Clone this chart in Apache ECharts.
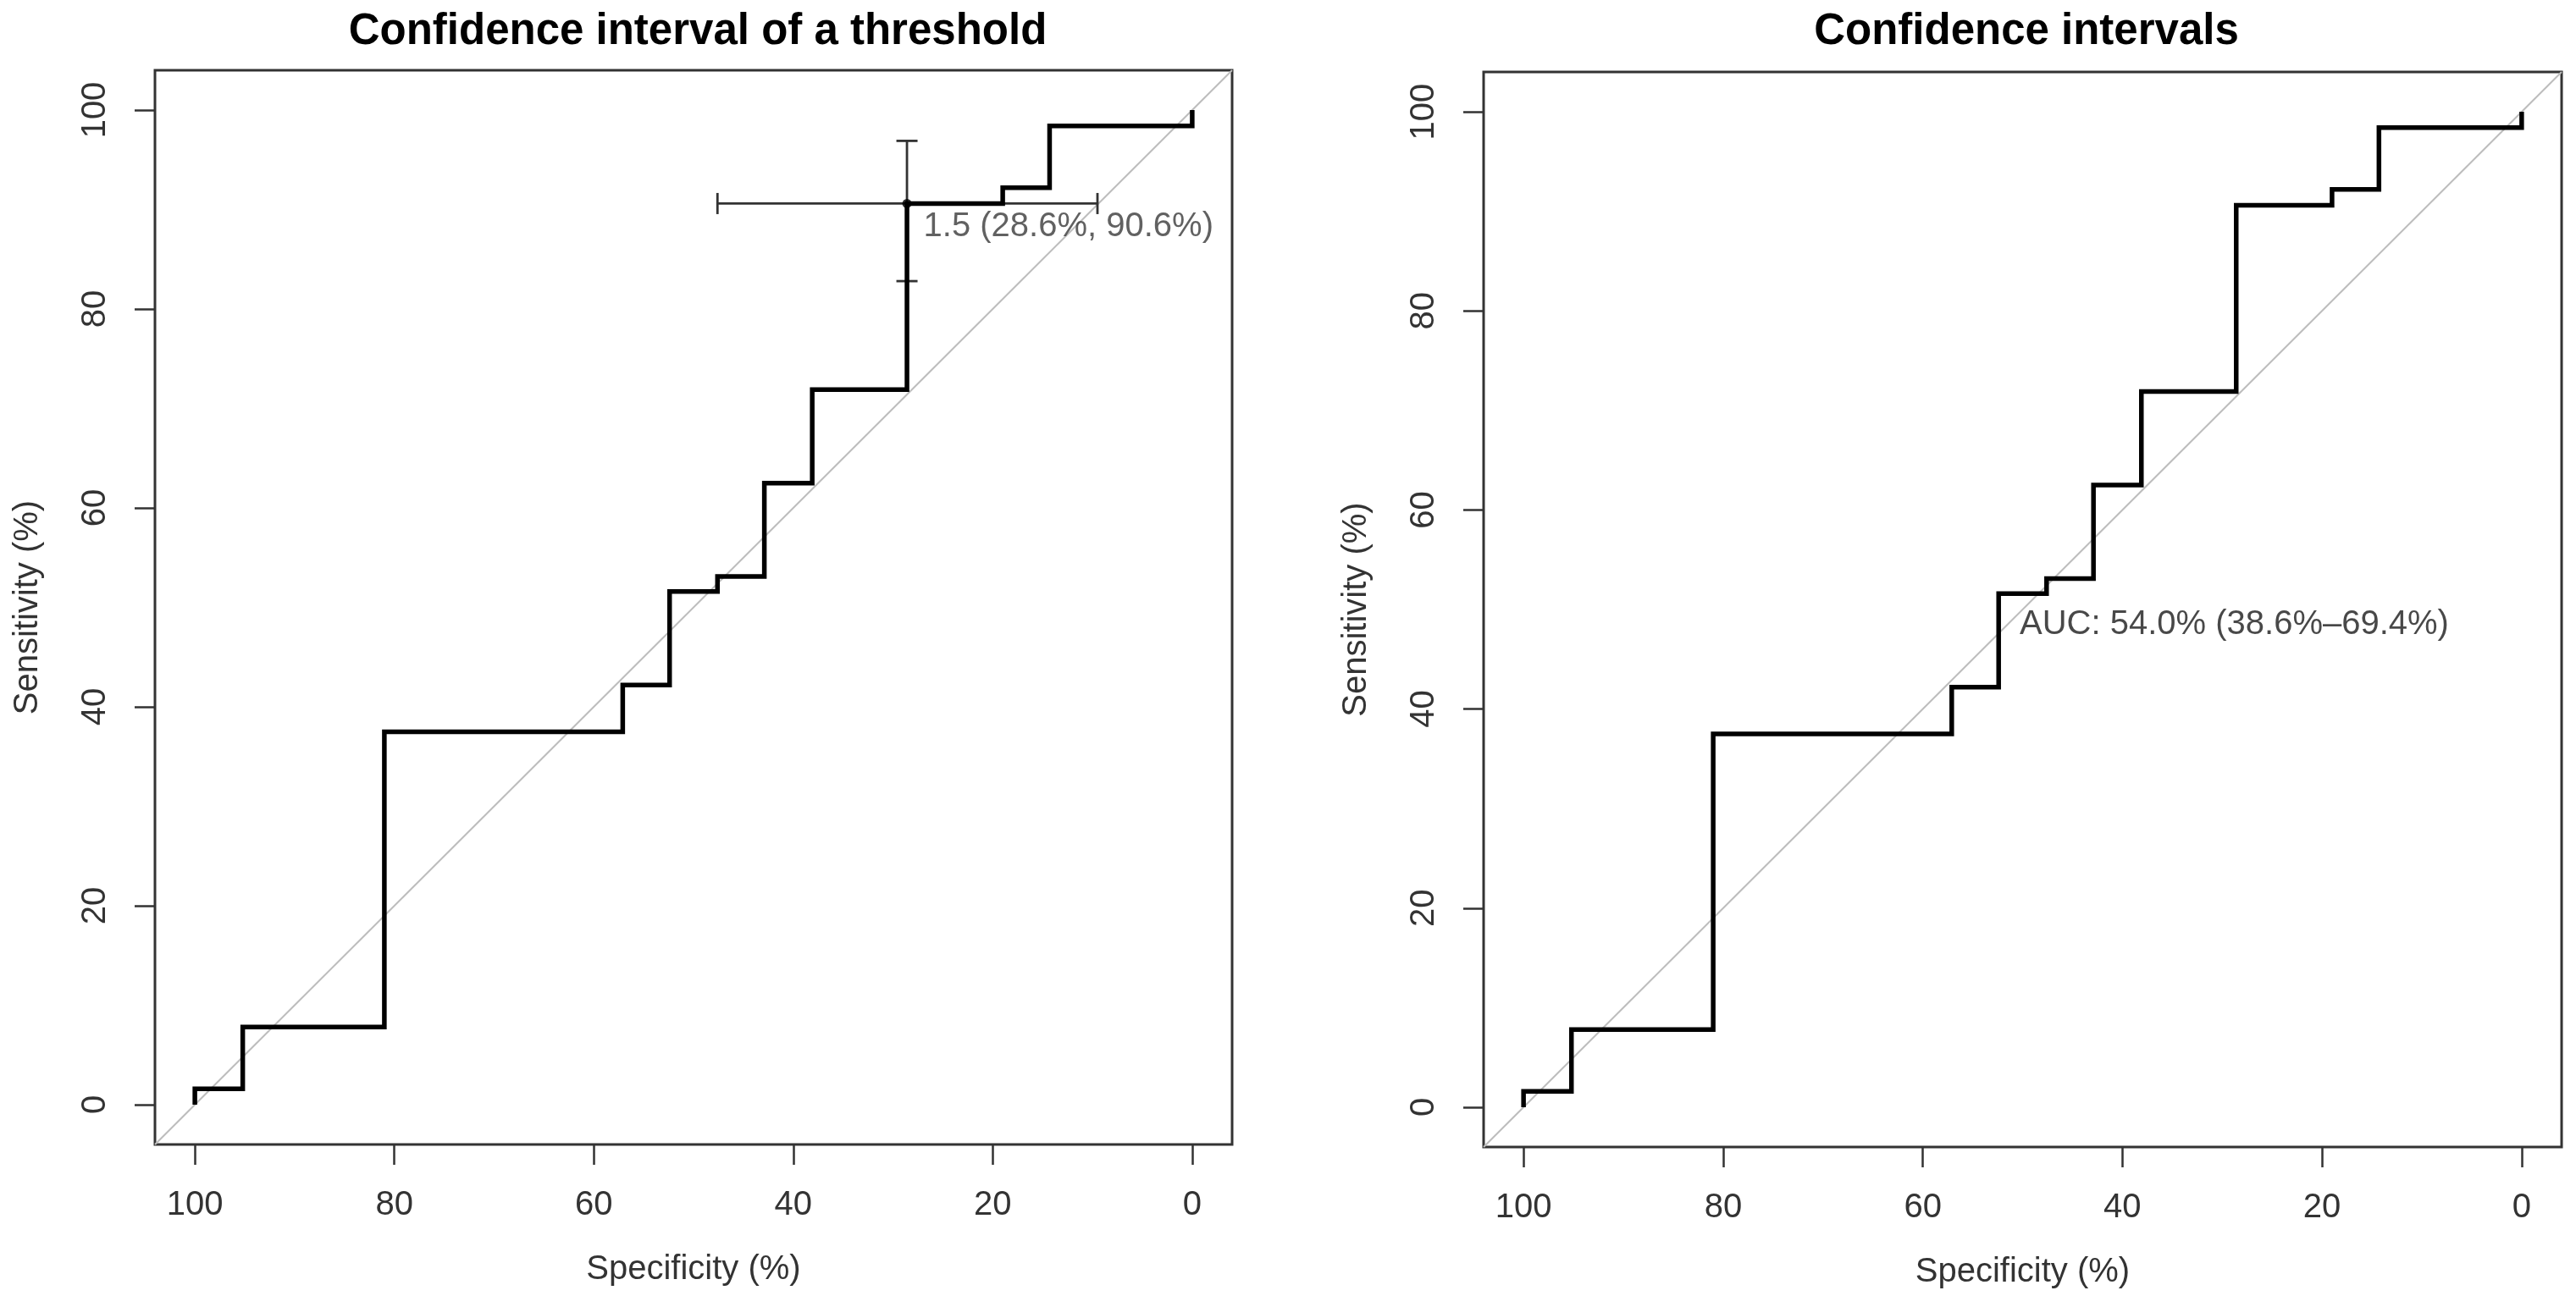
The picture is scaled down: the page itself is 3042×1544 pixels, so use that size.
<!DOCTYPE html>
<html>
<head>
<meta charset="utf-8">
<script src="https://cdn.jsdelivr.net/npm/echarts@6/dist/echarts.min.js"></script>
<style>
  html, body { margin: 0; padding: 0; background: #ffffff; }
  #chart { width: 3042px; height: 1544px; }
</style>
</head>
<body>
<div id="chart"></div>
<script>
// ROC curve corners (specificity %, sensitivity %)
const specificity = [100, 100, 95.2, 95.2, 81.0, 81.0, 57.1, 57.1, 52.4, 52.4, 47.6, 47.6, 42.9, 42.9, 38.1, 38.1, 28.6, 28.6, 19.0, 19.0, 14.3, 14.3, 0, 0];
const sensitivity = [0, 1.6, 1.6, 7.8, 7.8, 37.5, 37.5, 42.2, 42.2, 51.6, 51.6, 53.1, 53.1, 62.5, 62.5, 71.9, 71.9, 90.6, 90.6, 92.2, 92.2, 98.4, 98.4, 100];

// Axis tick labels
const specTicks = [0, 20, 40, 60, 80, 100];
const sensTicks = [0, 20, 40, 60, 80, 100];

// Chance diagonal (spans the whole plot region)
const diagSpec = [104, -4];
const diagSens = [-4, 104];

// Threshold with its confidence intervals
const thresholdValue = 1.5;
const thresholdSpec = 28.6;
const thresholdSens = 90.6;
const thresholdSpecCI = [47.6, 9.5];
const thresholdSensCI = [82.8, 96.9];

// AUC with its confidence interval
const aucValue = 54.0;
const aucCI = [38.6, 69.4];
const aucPos = [50, 50];

const titles = ['Confidence interval of a threshold', 'Confidence intervals'];

const FONT = 'Liberation Sans, Arial, Helvetica, sans-serif';
const rocData = specificity.map((s, i) => [s, sensitivity[i]]);
const diagData = diagSpec.map((s, i) => [s, diagSens[i]]);

const grids = [
  { left: 183, top: 83, width: 1272, height: 1269 },
  { left: 1752, top: 85, width: 1273, height: 1270 }
];

function xAxisFor(i) {
  return {
    type: 'value', gridIndex: i, inverse: true, min: -4, max: 104, position: 'bottom',
    name: 'Specificity (%)', nameLocation: 'middle', nameGap: 128,
    nameTextStyle: { fontFamily: FONT, fontSize: 40, color: '#333' },
    axisLine: { show: false, onZero: false },
    axisTick: { show: true, inside: false, length: 24, customValues: specTicks, lineStyle: { color: '#333', width: 2.5 } },
    axisLabel: { show: true, margin: 52, customValues: specTicks, fontFamily: FONT, fontSize: 40, color: '#333' },
    splitLine: { show: false }
  };
}
function yAxisFor(i) {
  return {
    type: 'value', gridIndex: i, min: -4, max: 104, position: 'left',
    name: 'Sensitivity (%)', nameLocation: 'middle', nameGap: 130,
    nameTextStyle: { fontFamily: FONT, fontSize: 40, color: '#333' },
    axisLine: { show: false, onZero: false },
    axisTick: { show: true, inside: false, length: 24, customValues: sensTicks, lineStyle: { color: '#333', width: 2.5 } },
    axisLabel: { show: true, margin: 50, rotate: 90, customValues: sensTicks, fontFamily: FONT, fontSize: 40, color: '#333' },
    splitLine: { show: false }
  };
}

const series = [];
[0, 1].forEach(i => {
  series.push({
    type: 'line', xAxisIndex: i, yAxisIndex: i, data: diagData, symbol: 'none',
    lineStyle: { color: '#bdbdbd', width: 2 }, silent: true, z: 1
  });
  series.push({
    type: 'line', xAxisIndex: i, yAxisIndex: i, data: rocData, symbol: 'none',
    lineStyle: { color: '#000', width: 5.5, join: 'miter', cap: 'butt' }, silent: true, z: 4
  });
});

// Threshold error bars (left panel)
series.push({
  type: 'custom', xAxisIndex: 0, yAxisIndex: 0, z: 3, silent: true,
  data: [[thresholdSpec, thresholdSens, thresholdSpecCI[0], thresholdSpecCI[1], thresholdSensCI[0], thresholdSensCI[1]]],
  renderItem: function (params, api) {
    const sx = api.value(0), sy = api.value(1);
    const a = api.coord([api.value(2), sy]);
    const b = api.coord([api.value(3), sy]);
    const c = api.coord([sx, api.value(4)]);
    const d = api.coord([sx, api.value(5)]);
    const cap = 12.5;
    const st = { stroke: '#333', lineWidth: 2.8 };
    const ln = (x1, y1, x2, y2) => ({ type: 'line', shape: { x1, y1, x2, y2 }, style: st });
    return {
      type: 'group',
      children: [
        ln(a[0], a[1], b[0], b[1]),
        ln(a[0], a[1] - cap, a[0], a[1] + cap),
        ln(b[0], b[1] - cap, b[0], b[1] + cap),
        ln(c[0], c[1], d[0], d[1]),
        ln(c[0] - cap, c[1], c[0] + cap, c[1]),
        ln(d[0] - cap, d[1], d[0] + cap, d[1])
      ]
    };
  }
});

// Threshold point + label
series.push({
  type: 'scatter', xAxisIndex: 0, yAxisIndex: 0, z: 6, silent: true,
  symbol: 'circle', symbolSize: 11,
  itemStyle: { color: '#000' },
  data: [[thresholdSpec, thresholdSens]],
  label: {
    show: true, position: [25, 33], align: 'left', verticalAlign: 'middle',
    fontFamily: FONT, fontSize: 40, color: '#3a3a3a',
    formatter: () => thresholdValue + ' (' + thresholdSpec.toFixed(1) + '%, ' + thresholdSens.toFixed(1) + '%)'
  }
});

// AUC text (right panel)
series.push({
  type: 'scatter', xAxisIndex: 1, yAxisIndex: 1, z: 6, silent: true,
  symbol: 'circle', symbolSize: 1,
  itemStyle: { color: 'rgba(0,0,0,0)' },
  data: [aucPos],
  label: {
    show: true, position: [-3, 18], align: 'left', verticalAlign: 'middle',
    fontFamily: FONT, fontSize: 40, color: '#1a1a1a',
    formatter: () => 'AUC: ' + aucValue.toFixed(1) + '% (' + aucCI[0].toFixed(1) + '%\u2013' + aucCI[1].toFixed(1) + '%)'
  }
});

const chart = echarts.init(document.getElementById('chart'), null, { renderer: 'canvas' });
chart.setOption({
  backgroundColor: '#ffffff',
  animation: false,
  title: [
    { text: titles[0], left: 819, top: 7, textAlign: 'center', textStyle: { fontFamily: FONT, fontSize: 51, fontWeight: 'bold', color: '#000' } },
    { text: titles[1], left: 2388, top: 7, textAlign: 'center', textStyle: { fontFamily: FONT, fontSize: 51, fontWeight: 'bold', color: '#000' } }
  ],
  grid: grids.map(g => Object.assign({ show: true, borderColor: '#333', borderWidth: 3, backgroundColor: 'transparent', containLabel: false }, g)),
  xAxis: [xAxisFor(0), xAxisFor(1)],
  yAxis: [yAxisFor(0), yAxisFor(1)],
  series: series
});
</script>
</body>
</html>
